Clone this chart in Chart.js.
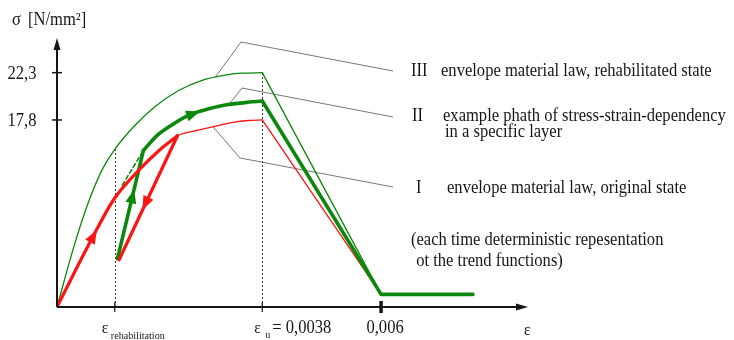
<!DOCTYPE html>
<html>
<head>
<meta charset="utf-8">
<script src="https://cdn.jsdelivr.net/npm/chart.js@4/dist/chart.umd.min.js"></script>
<style>
  html, body { margin: 0; padding: 0; background: #fff; }
  #wrap { width: 734px; height: 340px; }
</style>
</head>
<body>
<div id="wrap"><canvas id="myChart" width="734" height="340"></canvas></div>
<script>
{
  /* Data (strain [-], stress [N/mm²]) */

  // III envelope, rehabilitated state
  const envRehabStrain = [0, 0.00031, 0.00057, 0.00083, 0.00107, 0.00141, 0.0018, 0.00225, 0.0027, 0.00309, 0.00341, 0.0038, 0.006];
  const envRehabStress = [0, 5.7, 9.8, 13.0, 15.0, 17.1, 19.0, 20.6, 21.6, 22.05, 22.25, 22.3, 1.2];

  // I envelope, original state
  const envOrigStrain = [0, 0.00063, 0.00106, 0.00151, 0.00189, 0.00223, 0.00264, 0.00302, 0.00328, 0.00354, 0.0038, 0.006];
  const envOrigStress = [0, 6.35, 10.3, 13.0, 14.9, 16.3, 16.85, 17.3, 17.6, 17.75, 17.8, 1.2];

  // II example path: loading, unloading, reloading after rehabilitation
  const loadStrain = [0, 0.00063, 0.00106, 0.00151, 0.00189, 0.00223];
  const loadStress = [0, 6.35, 10.3, 13.0, 14.9, 16.3];
  const unloadStrain = [0.00223, 0.00115];
  const unloadStress = [16.3, 4.5];
  const reloadStrain = [0.00112, 0.0016, 0.00186, 0.00212, 0.00244, 0.0027, 0.00309, 0.00348, 0.0038, 0.006, 0.0077];
  const reloadStress = [4.6, 14.9, 16.35, 17.3, 18.25, 18.7, 19.2, 19.45, 19.6, 1.2, 1.2];
  const linkStrain = [0.00121, 0.0016];
  const linkStress = [11.6, 14.9];

  // axis ticks
  const strainTicks = [0.00107, 0.0038, 0.006];
  const stressTicks = [17.8, 22.3];
  const stressTickLabels = ['17,8', '22,3'];

  const notes = [
    ['III', 'envelope material law, rehabilitated state'],
    ['II', 'example phath of stress-strain-dependency', 'in a specific layer'],
    ['I', 'envelope material law, original state'],
  ];
  const remark = ['(each time deterministic repesentation', ' ot the trend functions)'];

  /* Styles */
  const RED = '#fa1414';
  const GREEN = '#0b880b';
  const INK = '#161616';
  const FONT = '"Liberation Serif", "Times New Roman", serif';
  const SQUEEZE = 0.92;

  const toPoints = (xs, ys, from, to) => xs.slice(from, to).map((x, i) => ({x: x, y: ys[from + i]}));

  const interp = function(xs, ys, x){
    for(let i = 1; i < xs.length; i++){
      if(x <= xs[i]){
        const t = (x - xs[i - 1]) / (xs[i] - xs[i - 1]);
        return ys[i - 1] + t * (ys[i] - ys[i - 1]);
      }
    }
    return ys[ys.length - 1];
  };

  const text = function(ctx, str, x, y, size, align){
    ctx.save();
    ctx.font = size + 'px ' + FONT;
    ctx.fillStyle = INK;
    ctx.textBaseline = 'alphabetic';
    ctx.textAlign = align || 'left';
    ctx.translate(x, y);
    ctx.scale(SQUEEZE, 1);
    ctx.fillText(str, 0, 0);
    ctx.restore();
  };

  const arrowHead = function(ctx, a, b, t, color){
    const x = a.x + (b.x - a.x) * t;
    const y = a.y + (b.y - a.y) * t;
    ctx.save();
    ctx.translate(x, y);
    ctx.rotate(Math.atan2(b.y - a.y, b.x - a.x));
    ctx.beginPath();
    ctx.moveTo(0, 0);
    ctx.lineTo(-14, -5.5);
    ctx.lineTo(-14, 5.5);
    ctx.closePath();
    ctx.fillStyle = color;
    ctx.fill();
    ctx.restore();
  };

  /* Datasets, index 0 is drawn on top; rising branches are smoothed, falling ones straight */
  const peakRehab = envRehabStrain.indexOf(0.0038);
  const peakOrig = envOrigStrain.indexOf(0.0038);
  const peakReload = reloadStrain.indexOf(0.0038);
  const smooth = {cubicInterpolationMode: 'monotone'};

  const datasets = [
    {label: 'load', data: toPoints(loadStrain, loadStress, 0), borderColor: RED, borderWidth: 3.2, ...smooth},
    {label: 'unload', data: toPoints(unloadStrain, unloadStress, 0), borderColor: RED, borderWidth: 3.2},
    {label: 'reloadUp', data: toPoints(reloadStrain, reloadStress, 0, 2), borderColor: GREEN, borderWidth: 3.6},
    {label: 'reloadCurve', data: toPoints(reloadStrain, reloadStress, 1, peakReload + 1), borderColor: GREEN, borderWidth: 3.6, ...smooth},
    {label: 'reloadFall', data: toPoints(reloadStrain, reloadStress, peakReload), borderColor: GREEN, borderWidth: 3.6},
    {label: 'link', data: toPoints(linkStrain, linkStress, 0), borderColor: GREEN, borderWidth: 1.6, borderDash: [4, 3]},
    {label: 'I', data: toPoints(envOrigStrain, envOrigStress, 0, peakOrig + 1), borderColor: RED, borderWidth: 1.3, ...smooth},
    {label: 'IFall', data: toPoints(envOrigStrain, envOrigStress, peakOrig), borderColor: RED, borderWidth: 1.3},
    {label: 'III', data: toPoints(envRehabStrain, envRehabStress, 0, peakRehab + 1), borderColor: GREEN, borderWidth: 1.3, ...smooth},
    {label: 'IIIFall', data: toPoints(envRehabStrain, envRehabStress, peakRehab), borderColor: GREEN, borderWidth: 1.3},
  ];

  const meta = (chart, label) => chart.getDatasetMeta(datasets.findIndex(d => d.label === label)).data;

  const diagram = {
    id: 'diagram',
    beforeDatasetsDraw(chart){
      const {ctx, scales: {x, y}} = chart;

      // dotted guides up to envelope III
      ctx.save();
      ctx.strokeStyle = '#333';
      ctx.lineWidth = 1;
      ctx.setLineDash([2, 2]);
      for(const s of strainTicks.slice(0, 2)){
        const px = Math.round(x.getPixelForValue(s)) + 0.5;
        ctx.beginPath();
        ctx.moveTo(px, y.getPixelForValue(0));
        ctx.lineTo(px, y.getPixelForValue(interp(envRehabStrain, envRehabStress, s)));
        ctx.stroke();
      }
      ctx.restore();

      // leader lines to the notes
      const leaders = [
        {px: x.getPixelForValue(0.00293), py: y.getPixelForValue(interp(envRehabStrain, envRehabStress, 0.00293)), elbow: [241, 42], end: [393, 71]},
        {px: x.getPixelForValue(0.00318), py: y.getPixelForValue(interp(reloadStrain, reloadStress, 0.00318)), elbow: [242, 88], end: [393, 117]},
        {px: x.getPixelForValue(0.00289), py: y.getPixelForValue(interp(envOrigStrain, envOrigStress, 0.00289)), elbow: [240, 158], end: [393, 187]},
      ];
      ctx.save();
      ctx.strokeStyle = '#555';
      ctx.lineWidth = 0.8;
      for(const l of leaders){
        ctx.beginPath();
        ctx.moveTo(l.px, l.py);
        ctx.lineTo(l.elbow[0], l.elbow[1]);
        ctx.lineTo(l.end[0], l.end[1]);
        ctx.stroke();
      }
      ctx.restore();
    },
    afterDatasetsDraw(chart){
      const {ctx, chartArea, scales: {x, y}} = chart;
      const x0 = x.getPixelForValue(0);
      const y0 = y.getPixelForValue(0);

      // direction arrows on the path
      const load = meta(chart, 'load');
      const unload = meta(chart, 'unload');
      const reloadUp = meta(chart, 'reloadUp');
      const reloadCurve = meta(chart, 'reloadCurve');
      arrowHead(ctx, load[1], load[2], 0.25, RED);
      arrowHead(ctx, unload[0], unload[1], 0.6, RED);
      arrowHead(ctx, reloadUp[0], reloadUp[1], 0.64, GREEN);
      arrowHead(ctx, reloadCurve[3], reloadCurve[4], 0.8, GREEN);

      // axes with arrows
      ctx.save();
      ctx.strokeStyle = INK;
      ctx.fillStyle = INK;
      ctx.lineWidth = 2;
      ctx.beginPath();
      ctx.moveTo(x0, y0);
      ctx.lineTo(x0, chartArea.top + 10);
      ctx.moveTo(x0, y0);
      ctx.lineTo(chartArea.right - 10, y0);
      ctx.stroke();
      ctx.beginPath();
      ctx.moveTo(x0, chartArea.top);
      ctx.lineTo(x0 - 3.5, chartArea.top + 12);
      ctx.lineTo(x0 + 3.5, chartArea.top + 12);
      ctx.closePath();
      ctx.moveTo(chartArea.right, y0);
      ctx.lineTo(chartArea.right - 12, y0 - 3.5);
      ctx.lineTo(chartArea.right - 12, y0 + 3.5);
      ctx.closePath();
      ctx.fill();

      // ticks
      ctx.lineWidth = 1.5;
      stressTicks.forEach((v, i) => {
        const py = y.getPixelForValue(v);
        ctx.beginPath();
        ctx.moveTo(x0 - 5, py);
        ctx.lineTo(x0 + 5, py);
        ctx.stroke();
        text(ctx, stressTickLabels[i], 36.5, py + 6, 18, 'right');
      });
      strainTicks.forEach((v, i) => {
        const px = x.getPixelForValue(v);
        const last = i === strainTicks.length - 1;
        ctx.lineWidth = last ? 3.5 : 1.2;
        ctx.beginPath();
        ctx.moveTo(px, y0 - (last ? 6 : 5));
        ctx.lineTo(px, y0 + (last ? 6 : 5));
        ctx.stroke();
      });
      ctx.restore();

      // strain labels
      const pr = x.getPixelForValue(strainTicks[0]);
      text(ctx, 'ε', pr - 13, 333, 17);
      text(ctx, 'rehabilitation', pr - 4, 339, 11);
      const pu = x.getPixelForValue(strainTicks[1]);
      text(ctx, 'ε', pu - 8, 333, 17);
      text(ctx, 'u', pu + 3, 338, 11);
      text(ctx, '= 0,0038', pu + 10, 333, 18);
      text(ctx, '0,006', x.getPixelForValue(strainTicks[2]) + 4, 333, 18, 'center');
      text(ctx, 'ε', chartArea.right - 4, 335, 17);

      // stress axis title
      text(ctx, 'σ', 12, 25, 18);
      text(ctx, '[N/mm²]', 28, 25, 18);

      // notes
      text(ctx, notes[0][0], 411, 76, 18);
      text(ctx, notes[0][1], 441, 76, 18);
      text(ctx, notes[1][0], 412, 121, 18);
      text(ctx, notes[1][1], 443, 121, 18);
      text(ctx, notes[1][2], 445, 137, 18);
      text(ctx, notes[2][0], 416, 193, 18);
      text(ctx, notes[2][1], 447, 193, 18);
      text(ctx, remark[0], 411, 245, 18);
      text(ctx, remark[1], 412, 266, 18);
    }
  };

  /* Chart */
  function initChart(){
    const ctx = document.getElementById('myChart').getContext('2d');

    // eslint-disable-next-line no-undef
    new Chart(ctx, {
      type: 'line',
      data: {datasets: datasets},
      options: {
        responsive: false,
        animation: false,
        layout: {padding: {left: 57, right: 206, top: 38, bottom: 33}},
        elements: {point: {radius: 0}, line: {tension: 0, borderCapStyle: 'round', borderJoinStyle: 'round'}},
        plugins: {legend: {display: false}, tooltip: {enabled: false}},
        scales: {
          x: {type: 'linear', min: 0, max: 0.00872, display: false},
          y: {type: 'linear', min: 0, max: 25.6, display: false},
        },
      },
      plugins: [diagram],
    });
  }

  initChart();
}
</script>
</body>
</html>
